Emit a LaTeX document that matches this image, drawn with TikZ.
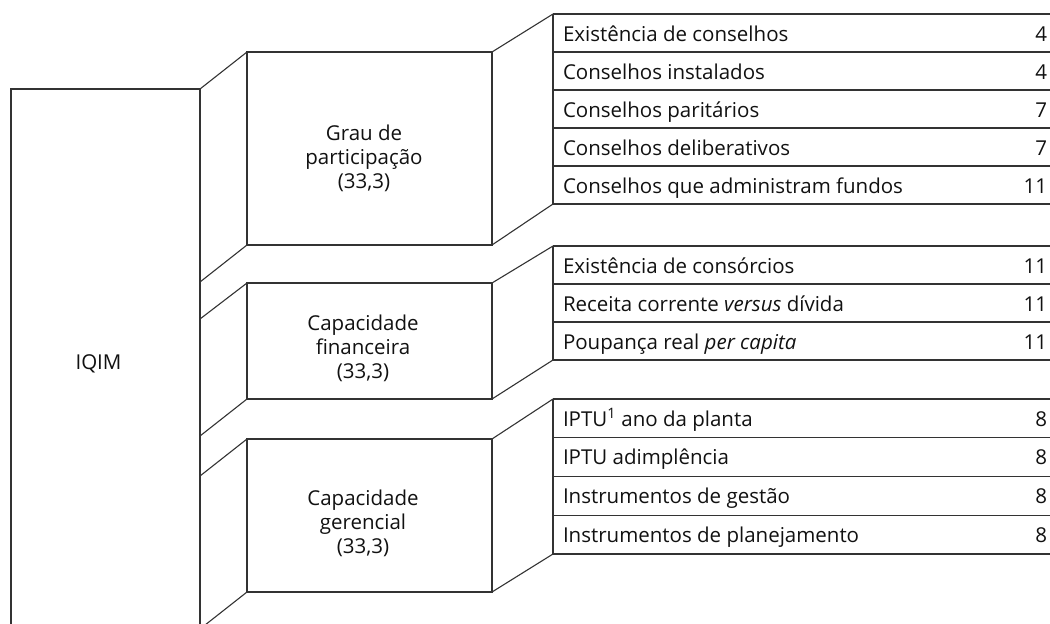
\documentclass[tikz,border=0pt]{standalone}
\usepackage{fontspec}
\setmainfont{Open Sans}
\usetikzlibrary{calc}
\definecolor{ln}{HTML}{333333}
\definecolor{tx}{HTML}{111111}
\begin{document}
\begin{tikzpicture}[x=1pt,y=-1pt,
  line width=1.1pt, draw=ln,
  every node/.style={inner sep=0pt, outer sep=0pt, text=tx, font=\fontsize{20.5}{24}\selectfont},
  boxnode/.style={draw=ln, line width=1.1pt, anchor=north west, minimum width=245pt},
  rownode/.style={anchor=north west, minimum width=497pt, minimum height=38pt},
  itemtext/.style={anchor=base west},
  numtext/.style={anchor=base east},
  boxtext/.style={align=center, anchor=north}
]
\useasboundingbox (0,0) rectangle (1050,624);
\clip (0,0) rectangle (1050,624);

% IQIM column (open at the bottom)
\node[anchor=north west, minimum width=189pt, minimum height=545pt] (iqim) at (11,89) {};
\draw (iqim.south west) -- (iqim.north west) -- (iqim.north east) -- (iqim.south east);
\node (iqimT) at (98.5,364) {IQIM};

% coordinates on the IQIM right edge
\coordinate (e1) at (200,282);
\coordinate (e2) at (200,319);
\coordinate (e3) at (200,436);
\coordinate (e4) at (200,476);
\coordinate (e5) at (200,629);

% middle boxes
\node[boxnode, minimum height=193pt] (grau) at (247,52) {};
\node[boxnode, minimum height=116pt] (fin) at (247,283) {};
\node[boxnode, minimum height=153pt] (ger) at (247,439) {};

\node[boxtext] (grauT) at (364,124.5) {Grau de\\participação\\(33,3)};
\node[boxtext] (finT) at (363,314.5) {Capacidade\\financeira\\(33,3)};
\node[boxtext] (gerT) at (363,489.5) {Capacidade\\gerencial\\(33,3)};

% left diagonals
\draw (iqim.north east) -- (grau.north west);
\draw (grau.south west) -- (e1);
\draw (e2) -- (fin.north west);
\draw (fin.south west) -- (e3);
\draw (e4) -- (ger.north west);
\draw (ger.south west) -- (e5);

% table 1
\node[rownode] (a1) at (553,14) {};
\node[rownode] (a2) at (553,52) {};
\node[rownode] (a3) at (553,90) {};
\node[rownode] (a4) at (553,128) {};
\node[rownode] (a5) at (553,166) {};
% table 2
\node[rownode] (b1) at (553,246) {};
\node[rownode] (b2) at (553,284) {};
\node[rownode] (b3) at (553,322) {};
% table 3
\node[rownode, minimum height=38.75pt] (c1) at (553,399) {};
\node[rownode, minimum height=38.75pt] (c2) at (553,437.75) {};
\node[rownode, minimum height=38.75pt] (c3) at (553,476.5) {};
\node[rownode, minimum height=38.75pt] (c4) at (553,515.25) {};

% table rules
\foreach \r in {a1,a2,a3,a4,a5,b1,b2,b3,c1,c2,c3,c4}{
  \draw (\r.north west) -- (\r.north east);
}
\draw (a5.south west) -- (a5.south east);
\draw (b3.south west) -- (b3.south east);
\draw (c4.south west) -- (c4.south east);
\draw (a1.north west) -- (a5.south west);
\draw (b1.north west) -- (b3.south west);
\draw (c1.north west) -- (c4.south west);

% right diagonals
\draw (grau.north east) -- (a1.north west);
\draw (grau.south east) -- (a5.south west);
\draw (fin.north east) -- (b1.north west);
\draw (fin.south east) -- (b3.south west);
\draw (ger.north east) -- (c1.north west);
\draw (ger.south east) -- (c4.south west);

% texts
\foreach \r/\t/\n in {
  a1/{Existência de conselhos}/4,
  a2/{Conselhos instalados}/4,
  a3/{Conselhos paritários}/7,
  a4/{Conselhos deliberativos}/7,
  a5/{Conselhos que administram fundos}/11,
  b1/{Existência de consórcios}/11,
  b2/{Receita corrente \textit{versus} dívida}/11,
  b3/{Poupança real \textit{per capita}}/11,
  c1/{IPTU\textsuperscript{1} ano da planta}/8,
  c2/{IPTU adimplência}/8,
  c3/{Instrumentos de gestão}/8,
  c4/{Instrumentos de planejamento}/8}{
  \node[itemtext] (\r t) at ($(\r.north west)+(10,27)$) {\t};
  \node[numtext] (\r n) at ($(\r.north east)+(-3,27)$) {\n};
}
\end{tikzpicture}
\end{document}
